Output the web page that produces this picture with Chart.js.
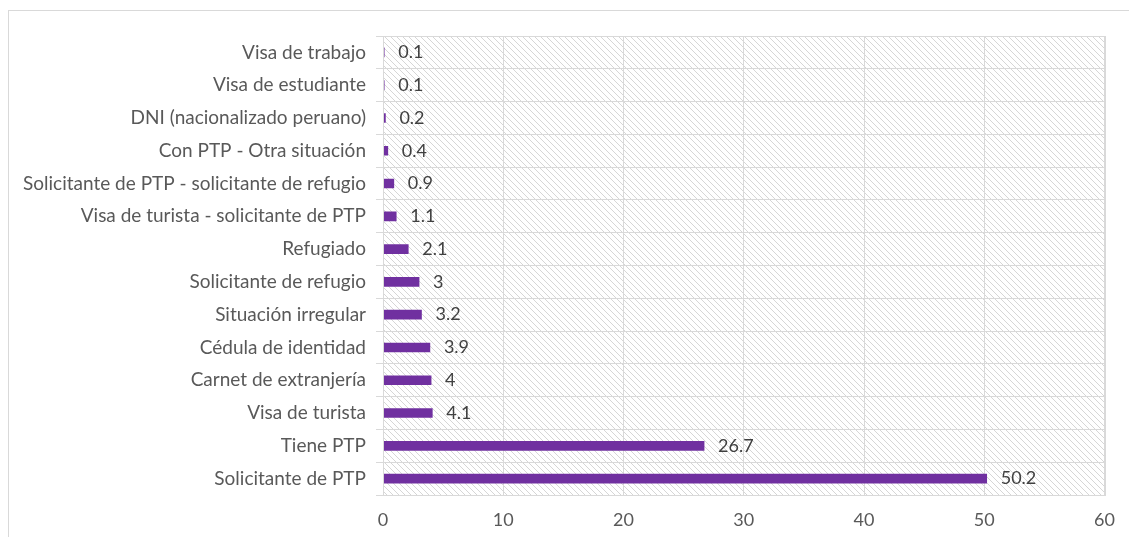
<!DOCTYPE html>
<html>
<head>
<meta charset="utf-8">
<script src="https://cdn.jsdelivr.net/npm/chart.js@4/dist/chart.umd.min.js"></script>
<style>
  html, body { margin: 0; padding: 0; background: #fff; }
  #wrap { width: 1129px; height: 537px; position: relative; }
</style>
</head>
<body>
<div id="wrap"><canvas id="statusChart" width="1129" height="537"></canvas></div>
<script>
const categories = [
  "Visa de trabajo",
  "Visa de estudiante",
  "DNI (nacionalizado peruano)",
  "Con PTP - Otra situación",
  "Solicitante de PTP - solicitante de refugio",
  "Visa de turista - solicitante de PTP",
  "Refugiado",
  "Solicitante de refugio",
  "Situación irregular",
  "Cédula de identidad",
  "Carnet de extranjería",
  "Visa de turista",
  "Tiene PTP",
  "Solicitante de PTP"
];
const values = [0.1, 0.1, 0.2, 0.4, 0.9, 1.1, 2.1, 3, 3.2, 3.9, 4, 4.1, 26.7, 50.2];
const xTicks = [0, 10, 20, 30, 40, 50, 60];

const FONT = "Lato, sans-serif";

function makeHatch() {
  const c = document.createElement("canvas");
  c.width = 6; c.height = 6;
  const g = c.getContext("2d");
  g.strokeStyle = "#d6d6d6";
  g.lineWidth = 1;
  g.beginPath();
  g.moveTo(-1, -1); g.lineTo(7, 7);
  g.moveTo(-1, 5); g.lineTo(1, 7);
  g.moveTo(5, -1); g.lineTo(7, 1);
  g.stroke();
  return c;
}

const backdrop = {
  id: "backdrop",
  beforeDraw(chart) {
    const { ctx, chartArea: a } = chart;
    ctx.save();
    ctx.strokeStyle = "#d9d9d9";
    ctx.lineWidth = 1;
    ctx.strokeRect(8.5, 10.5, 1300, 700);
    ctx.fillStyle = ctx.createPattern(makeHatch(), "repeat");
    ctx.fillRect(a.left, a.top, a.right - a.left, a.bottom - a.top);
    ctx.restore();
  },
  afterDraw(chart) {
    const { ctx, chartArea: a } = chart;
    ctx.save();
    ctx.strokeStyle = "#d9d9d9";
    ctx.lineWidth = 1;
    ctx.strokeRect(Math.round(a.left) + 0.5, Math.round(a.top) + 0.5, Math.round(a.right - a.left), Math.round(a.bottom - a.top));
    ctx.restore();
  }
};

const valueLabels = {
  id: "valueLabels",
  afterDatasetsDraw(chart) {
    const { ctx } = chart;
    const meta = chart.getDatasetMeta(0);
    ctx.save();
    ctx.font = "18px " + FONT;
    ctx.fillStyle = "#404040";
    ctx.textBaseline = "middle";
    meta.data.forEach((bar, i) => {
      ctx.fillText(String(values[i]), bar.x + 14, bar.y);
    });
    ctx.restore();
  }
};

new Chart(document.getElementById("statusChart"), {
  type: "bar",
  data: {
    labels: categories,
    datasets: [{
      data: values,
      backgroundColor: "#7030a0",
      barThickness: 9
    }]
  },
  options: {
    indexAxis: "y",
    responsive: false,
    animation: false,
    layout: { padding: { top: 36, right: 23, bottom: 0, left: 0 } },
    plugins: { legend: { display: false }, tooltip: { enabled: false } },
    scales: {
      x: {
        min: 0,
        max: 60,
        afterBuildTicks(scale) { scale.ticks = xTicks.map(v => ({ value: v })); },
        afterFit(scale) { scale.height = 42; },
        grid: { color: "#d9d9d9", drawTicks: false },
        border: { display: false },
        ticks: { padding: 14, color: "#595959", font: { family: FONT, size: 18 } }
      },
      y: {
        afterFit(scale) { scale.width = 383; },
        grid: { color: "#d9d9d9", offset: true, tickLength: 7 },
        border: { display: false },
        ticks: { padding: 10, color: "#595959", font: { family: FONT, size: 19 } }
      }
    }
  },
  plugins: [backdrop, valueLabels]
});
</script>
</body>
</html>
